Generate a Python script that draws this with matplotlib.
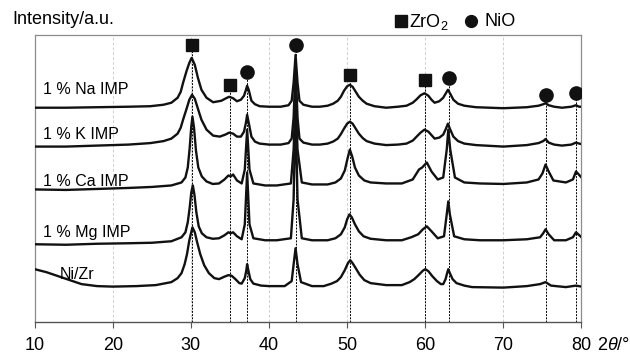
import matplotlib
matplotlib.use("Agg")
import matplotlib.pyplot as plt
from matplotlib.lines import Line2D

plt.rcParams['font.family'] = ['Liberation Sans', 'DejaVu Sans']
plt.rcParams['mathtext.fontset'] = 'custom'
plt.rcParams['mathtext.rm'] = 'Liberation Sans'
plt.rcParams['mathtext.it'] = 'Liberation Sans:italic'

# XRD patterns: (2theta, stacked intensity a.u.)
na_imp = [(10, 215), (14, 215), (18, 215.5), (22, 216), (24.8, 216.5), (26.5, 218), (27.5, 220),
          (28.3, 225), (28.7, 231), (29.0, 240), (29.45, 252), (29.8, 260), (30.1, 265), (30.5, 258),
          (30.9, 245), (31.35, 233), (32.0, 225), (32.85, 220.5), (33.9, 222), (34.5, 224.5),
          (34.9, 226), (35.4, 224.5), (35.9, 221.5), (36.4, 223), (36.8, 227), (37.05, 233),
          (37.2, 237), (37.4, 233), (37.75, 222), (38.2, 218.5), (38.8, 216.5), (40, 216),
          (41.5, 216), (42.5, 217.5), (42.9, 222), (43.15, 240), (43.4, 268), (43.65, 240),
          (43.9, 222), (44.4, 218), (45.5, 216), (46.5, 216), (47.5, 217), (48.2, 219), (48.8, 222),
          (49.2, 226), (49.6, 232), (50.0, 236.5), (50.35, 238), (50.7, 236), (51.1, 231),
          (51.5, 226), (52.0, 222), (52.5, 219), (53.5, 216.5), (55, 215), (56.5, 216), (57.6, 217),
          (58.4, 220), (58.9, 223.5), (59.4, 227.5), (59.9, 229.5), (60.4, 227), (60.8, 223),
          (61.2, 220), (61.8, 221.5), (62.3, 225), (62.6, 229), (62.9, 233), (63.2, 229),
          (63.6, 223), (64.2, 219), (65, 217), (66.5, 215.5), (70, 214.5), (73, 215.5),
          (74.5, 217), (75.1, 218.5), (75.4, 219.5), (75.8, 217.5), (76.5, 216), (77.5, 215),
          (78.7, 216), (79.3, 217.5), (79.7, 216), (80, 216)]
k_imp = [(10, 176), (14, 176), (18, 177), (22, 178), (24.8, 179.5), (26.5, 181.5), (27.5, 184),
         (28.3, 189), (28.7, 195), (29.0, 203), (29.45, 214), (29.8, 223), (30.15, 228), (30.5, 224),
         (30.9, 214), (31.35, 203), (32.0, 193), (32.85, 187), (33.7, 186), (34.4, 188), (34.9, 190),
         (35.4, 189), (35.9, 186), (36.4, 186), (36.8, 191), (37.05, 200), (37.2, 208), (37.4, 200),
         (37.75, 186), (38.2, 181), (38.8, 179), (40, 178), (41.5, 178), (42.5, 179.5), (42.9, 184),
         (43.15, 205), (43.4, 258), (43.65, 205), (43.9, 184), (44.4, 180), (45.5, 178),
         (46.5, 178), (47.5, 179), (48.2, 181), (48.8, 184), (49.2, 188.5), (49.6, 194),
         (50.0, 199), (50.35, 201), (50.7, 199), (51.1, 194), (51.5, 189), (52.0, 184.5),
         (52.5, 181.5), (53.5, 179), (55, 177.5), (56.5, 178), (57.6, 179), (58.4, 182),
         (58.9, 186), (59.4, 190), (59.9, 193), (60.4, 191), (60.8, 187.5), (61.2, 184),
         (61.8, 185), (62.3, 188), (62.65, 194), (62.9, 199), (63.15, 194), (63.6, 186),
         (64.2, 181.5), (65, 179), (66.5, 177.5), (70, 176), (73, 177.5), (74.5, 179.5),
         (75.1, 181.5), (75.4, 183.5), (75.8, 180), (76.5, 178), (77.5, 177), (78.7, 178),
         (79.3, 180), (79.7, 179), (80, 178.5)]
ca_imp = [(10, 133), (14, 132.5), (18, 133.5), (22, 134.5), (25, 135.5), (27.5, 137), (28.8, 140),
          (29.3, 145), (29.6, 155), (29.85, 175), (30.05, 196), (30.2, 206), (30.4, 195),
          (30.65, 172), (30.95, 155), (31.4, 146), (32.0, 141), (32.8, 138.5), (33.6, 139),
          (34.3, 143), (34.8, 147), (35.1, 146), (35.4, 148), (35.9, 142), (36.5, 139), (36.9, 153),
          (37.2, 193), (37.5, 153), (38.0, 139), (39.5, 137), (41, 137), (42.8, 139), (43.15, 173),
          (43.4, 228), (43.65, 173), (44.2, 140), (45.5, 138), (47.5, 138), (48.5, 140),
          (49.2, 144), (49.7, 152), (50.05, 164), (50.35, 173), (50.65, 166), (51.0, 155),
          (51.5, 147), (52.2, 142), (53, 140), (55, 139), (57, 139), (58.4, 143), (59.2, 153),
          (59.6, 155), (60.2, 160), (60.8, 151), (61.6, 143), (62.3, 145), (62.75, 173),
          (62.95, 193), (63.2, 173), (63.8, 145), (65, 140), (67, 139), (70, 138.5), (73, 140),
          (74.5, 143), (75.0, 149), (75.4, 158), (75.8, 151), (76.4, 142), (78, 140), (78.9, 143),
          (79.3, 151), (80, 145)]
mg_imp = [(10, 78), (14, 77.5), (18, 78.5), (22, 79), (25, 79.5), (27.5, 81), (28.8, 85), (29.3, 90),
          (29.6, 100), (29.85, 115), (30.05, 130), (30.25, 137), (30.45, 128), (30.7, 110),
          (31.0, 96), (31.4, 89), (32.0, 85), (32.8, 83.5), (33.6, 84), (34.3, 87), (34.8, 90),
          (35.1, 89), (35.4, 90), (35.9, 86), (36.5, 83), (36.9, 98), (37.2, 150), (37.5, 98),
          (38.0, 84), (39.5, 82), (41, 82), (42.8, 84), (43.15, 123), (43.4, 215), (43.65, 123),
          (44.2, 84), (45.5, 82), (47.5, 82), (48.5, 84), (49.2, 88), (49.7, 95), (50.0, 103),
          (50.3, 108), (50.6, 105), (51.0, 98), (51.5, 91), (52.1, 86), (53, 83.5), (55, 82),
          (57, 82), (58.2, 85), (59.1, 88), (59.7, 93), (60.2, 96), (60.8, 91), (61.6, 84),
          (62.4, 86), (62.75, 108), (62.95, 121), (63.15, 108), (63.7, 86), (65, 83), (67, 82),
          (70, 82), (73, 83), (74.7, 85), (75.1, 89), (75.4, 93), (75.8, 88), (76.5, 82), (78, 82),
          (78.9, 85), (79.3, 90), (80, 85)]
ni_zr = [(10, 53), (11.5, 50), (13, 46), (14.5, 42), (16, 38), (18, 36), (20, 35.5), (23, 36),
         (25.5, 37), (27.5, 40), (28.3, 44), (28.8, 49), (29.2, 58), (29.5, 68), (29.8, 82),
         (30.2, 95), (30.5, 90), (30.8, 80), (31.2, 68), (31.7, 57), (32.3, 49), (33.0, 44),
         (33.6, 43), (34.3, 45.5), (34.8, 47), (35.2, 46.5), (35.7, 43), (36.2, 39), (36.5, 38.5),
         (36.9, 44), (37.1, 52), (37.2, 58), (37.35, 52), (37.6, 43), (38.0, 38.5), (39, 36.5),
         (40, 36), (42, 36), (42.9, 41), (43.2, 61), (43.4, 74), (43.65, 58), (44.1, 40),
         (45.5, 36), (47, 36), (48.0, 38.5), (48.7, 41), (49.2, 45), (49.7, 52), (50.1, 59),
         (50.4, 62), (50.7, 59), (51.1, 54), (51.6, 47.5), (52.2, 42), (53, 39), (55, 37), (57, 37),
         (58.0, 40), (58.6, 43), (59.2, 47.5), (59.7, 51.5), (60.0, 53), (60.4, 51), (60.9, 46),
         (61.5, 41), (62.0, 38), (62.3, 38), (62.6, 43), (62.8, 49), (62.95, 53), (63.15, 49),
         (63.5, 43), (64.0, 39), (65, 36.5), (66, 35), (70, 34.5), (73, 36), (74.7, 38),
         (75.4, 40), (76.1, 36.5), (78, 35), (79.3, 36.5), (80, 35.5)]

patterns = [na_imp, k_imp, ca_imp, mg_imp, ni_zr]
names = ['1 % Na IMP', '1 % K IMP', '1 % Ca IMP', '1 % Mg IMP', 'Ni/Zr']
name_pos = [(11.1, 233), (11.1, 188), (11.1, 141), (11.1, 90), (13.25, 48)]

# phase reflections (position, marker height)
zro2_peaks = [30.2, 35.0, 50.4, 60.0]
zro2_marks = [278, 238, 248, 243]
nio_peaks = [37.2, 43.4, 63.0, 75.4, 79.3]
nio_marks = [251, 278, 245, 228, 230]

xticks = [10, 20, 30, 40, 50, 60, 70, 80]

fig = plt.figure(figsize=(6.3, 3.55), dpi=100)
ax = fig.add_axes([0.055, 0.093, 0.868, 0.8085])

for g in xticks[1:-1]:
    ax.axvline(g, color='#cfcfcf', lw=0.7, ls=(0, (3, 2)), zorder=0)

for pos, top in zip(zro2_peaks + nio_peaks, zro2_marks + nio_marks):
    ax.plot([pos, pos], [0, top], color='black', lw=0.7, ls=(0, (2, 1.3)), zorder=1)

for pat, name, (tx, ty) in zip(patterns, names, name_pos):
    xs = [p[0] for p in pat]
    ys = [p[1] for p in pat]
    ax.plot(xs, ys, color='#111111', lw=1.7, solid_joinstyle='round', zorder=3)
    ax.text(tx, ty, name, fontsize=11.5, va='center', ha='left', zorder=4)

ax.plot(zro2_peaks, zro2_marks, ls='none', marker='s', ms=9, color='#111111', zorder=5)
ax.plot(nio_peaks, nio_marks, ls='none', marker='o', ms=9.5, color='#111111', zorder=5)

ax.set_xlim(10, 80)
ax.set_ylim(0, 288)
ax.set_yticks([])
ax.set_xticks(xticks)
ax.tick_params(axis='x', direction='out', length=4, width=0.8, color='#555555',
               labelsize=13, pad=7)
for side in ['left', 'right', 'top']:
    ax.spines[side].set_color('#8c8c8c')
    ax.spines[side].set_linewidth(0.9)
ax.spines['bottom'].set_color('#555555')
ax.spines['bottom'].set_linewidth(1.0)

fig.text(12 / 630, 1 - 19 / 355, 'Intensity/a.u.', fontsize=13, va='center', ha='left')
fig.text(597 / 630, 1 - 346 / 355, r'2$\theta$/°', fontsize=13, va='center', ha='left')

# legend for the phase markers
fig.add_artist(Line2D([401 / 630], [1 - 21 / 355], marker='s', ms=8.5, color='#111111', ls='none'))
fig.text(409 / 630, 1 - 22 / 355, r'ZrO$_2$', fontsize=13, va='center', ha='left')
fig.add_artist(Line2D([471 / 630], [1 - 21 / 355], marker='o', ms=8.5, color='#111111', ls='none'))
fig.text(484 / 630, 1 - 22 / 355, 'NiO', fontsize=13, va='center', ha='left')

fig.savefig('out.png', dpi=100)
